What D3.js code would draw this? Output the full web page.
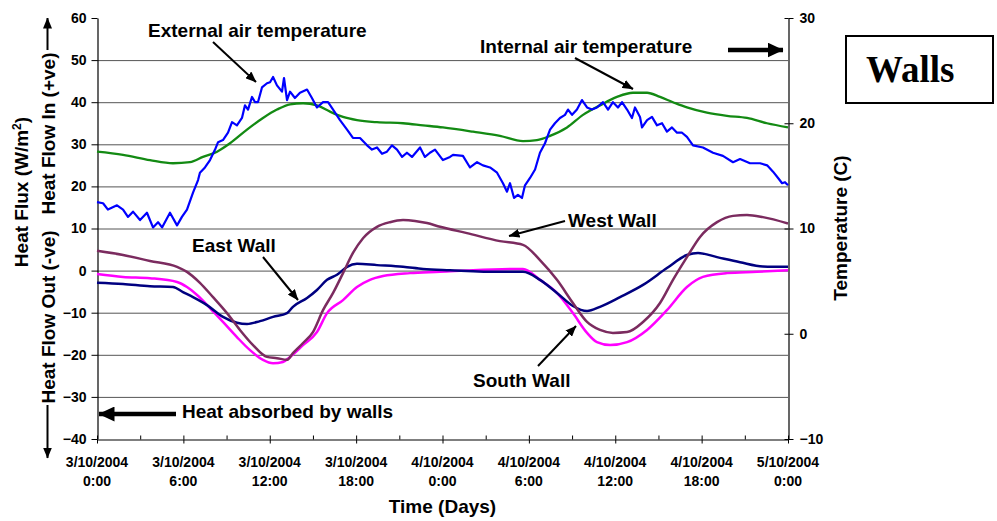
<!DOCTYPE html>
<html><head><meta charset="utf-8">
<script src="https://cdn.jsdelivr.net/npm/d3@7/dist/d3.min.js"></script>
<style>
body{margin:0;background:#fff}
text{font-family:"Liberation Sans",Arial,sans-serif;font-weight:bold;fill:#000}
</style>
</head><body>
<svg id="c" width="997" height="521"></svg>
<script>
// ---- data (hours since 3/10/2004 0:00) ----
const xTickHours = [0, 6, 12, 18, 24, 30, 36, 42, 48];
const xMinorHours = [3, 9, 15, 21, 27, 33, 39, 45];
const xTickDates = ["3/10/2004","3/10/2004","3/10/2004","3/10/2004","4/10/2004","4/10/2004","4/10/2004","4/10/2004","5/10/2004"];
const xTickTimes = ["0:00","6:00","12:00","18:00","0:00","6:00","12:00","18:00","0:00"];
const fluxTicks = [-40, -30, -20, -10, 0, 10, 20, 30, 40, 50, 60];
const tempTicks = [-10, 0, 10, 20, 30];

// External air temperature (C, right axis)
const extAir = [[0,12.5],[0.42,12.4],[0.76,11.8],[1.39,12.2],[1.81,11.8],[2.15,11.1],[2.5,11.6],[2.99,10.8],[3.47,11.5],[3.89,10.1],[4.24,10.6],[4.52,10.1],[5.07,11.5],[5.56,10.3],[5.9,11.1],[6.25,11.8],[6.67,13.4],[7.02,14.6],[7.15,15.3],[7.5,15.8],[7.85,16.5],[8.2,17.5],[8.41,18.2],[8.75,18.4],[9.1,19.1],[9.38,20.1],[9.72,19.8],[10.07,20.5],[10.28,21.7],[10.49,21.3],[10.77,22.5],[10.98,22.0],[11.18,22.0],[11.46,23.4],[11.81,23.8],[12.02,23.9],[12.23,24.4],[12.5,23.6],[12.85,23.0],[12.99,24.3],[13.2,22.2],[13.41,23.0],[13.75,22.4],[14.1,22.9],[14.59,23.2],[14.93,22.4],[15.28,21.5],[15.7,22.0],[16.05,22.0],[16.4,21.3],[16.88,20.3],[17.37,19.4],[17.78,18.6],[18.27,18.6],[18.76,17.9],[19.1,17.5],[19.45,17.7],[19.8,17.1],[20.14,17.3],[20.49,17.9],[20.84,17.5],[21.19,16.8],[21.53,17.2],[21.88,16.8],[22.44,17.7],[22.78,16.8],[23.13,17.2],[23.48,17.5],[24.03,16.5],[24.52,16.8],[24.73,17.0],[25.42,16.9],[25.91,15.8],[26.4,16.3],[26.81,16.0],[27.3,15.8],[27.79,15.3],[28.2,14.3],[28.48,13.5],[28.69,14.3],[28.97,12.9],[29.24,13.2],[29.52,12.9],[29.73,14.1],[30.08,14.8],[30.43,15.6],[30.77,17.2],[31.12,18.1],[31.47,19.4],[31.81,20.0],[32.16,20.5],[32.51,20.8],[32.72,21.3],[33.0,20.8],[33.34,21.3],[33.69,22.2],[34.04,21.5],[34.38,21.3],[34.73,21.5],[35.15,22.0],[35.5,21.3],[35.84,22.0],[36.19,21.5],[36.47,22.0],[36.82,21.3],[37.16,20.5],[37.37,21.5],[37.72,20.6],[37.86,19.6],[38.21,20.3],[38.55,20.6],[38.9,19.8],[39.25,20.0],[39.59,19.2],[39.94,19.6],[40.29,19.1],[40.64,19.1],[40.98,18.7],[41.4,17.9],[42.09,17.7],[42.79,17.2],[43.48,16.9],[44.18,16.3],[44.67,16.6],[45.36,16.2],[46.06,16.2],[46.55,16.0],[46.96,15.4],[47.31,14.8],[47.59,14.3],[47.79,14.4],[48,14.1]];

// Internal air temperature (C, right axis)
const intAir = [[0,17.3],[1.81,17.0],[3.68,16.5],[5.28,16.2],[6.46,16.3],[7.36,16.8],[8.34,17.3],[9.24,18.1],[10.42,19.4],[11.53,20.5],[12.5,21.3],[13.41,21.8],[14.31,21.9],[15.28,21.7],[16.19,21.1],[17.09,20.6],[18.06,20.3],[19.45,20.1],[21.26,20.0],[22.65,19.8],[24.03,19.6],[26.12,19.2],[27.99,18.8],[29.59,18.3],[30.56,18.4],[31.47,18.8],[32.65,19.6],[33.76,20.8],[34.94,21.7],[36.12,22.5],[37.23,22.9],[38.21,22.9],[39.11,22.5],[40.01,22.0],[40.98,21.5],[42.37,21.0],[43.76,20.7],[45.15,20.5],[46.54,20.0],[48,19.6]];

// South wall heat flux (W/m2, left axis)
const southWall = [[0,-0.8],[1.81,-1.5],[3.68,-1.8],[5.56,-2.7],[6.25,-3.9],[6.95,-5.8],[7.85,-8.9],[8.75,-12.2],[9.72,-15.8],[10.63,-18.9],[11.53,-21.2],[12.23,-22.0],[12.92,-21.7],[13.41,-20.5],[14.31,-17.7],[15.28,-14.6],[15.98,-10.1],[17.09,-7.0],[18.06,-3.9],[18.96,-2.2],[19.87,-1.3],[21.74,-0.6],[23.83,-0.3],[26.12,0.1],[29.59,0.4],[30.77,-2.2],[31.95,-5.3],[33.06,-10.1],[34.04,-14.8],[34.73,-17.0],[35.64,-17.7],[36.82,-17.0],[38.21,-14.1],[39.59,-9.4],[40.98,-3.9],[42.09,-1.5],[43.76,-0.6],[45.85,-0.3],[48,0.1]];

// East wall heat flux (W/m2, left axis)
const eastWall = [[0,-2.9],[1.81,-3.2],[3.68,-3.7],[5.28,-3.9],[5.97,-5.1],[6.67,-6.3],[7.64,-8.2],[8.75,-11.0],[9.72,-12.4],[10.42,-12.7],[11.32,-12.0],[12.23,-11.0],[13.2,-10.1],[13.61,-8.6],[14.59,-6.5],[15.28,-4.6],[15.98,-2.2],[16.67,-1.0],[17.37,0.9],[18.06,1.6],[19.45,1.3],[21.26,0.9],[22.65,0.4],[24.52,0.1],[27.99,-0.3],[29.59,-0.3],[30.77,-2.2],[31.95,-5.3],[33.06,-8.4],[34.04,-9.6],[34.94,-8.6],[36.33,-6.3],[37.93,-3.4],[39.59,0.6],[40.98,3.7],[41.75,4.2],[43.07,3.2],[44.67,2.0],[46.26,1.0],[48,0.9]];

// West wall heat flux (W/m2, left axis)
const westWall = [[0,4.7],[1.81,3.7],[3.68,2.3],[5.56,0.9],[6.25,-0.3],[7.15,-2.9],[8.06,-6.3],[9.03,-10.1],[9.93,-14.1],[10.84,-17.7],[11.81,-20.5],[12.5,-20.8],[13.2,-21.2],[13.61,-19.6],[14.31,-17.2],[15.0,-14.6],[15.7,-9.4],[16.4,-5.3],[17.09,-0.6],[17.78,4.2],[18.48,7.7],[19.45,10.4],[20.35,11.5],[21.26,12.0],[22.09,11.8],[22.92,11.3],[23.83,10.4],[25.7,8.9],[27.99,7.0],[29.59,6.1],[30.77,2.5],[31.95,-2.2],[33.06,-7.7],[34.04,-12.2],[34.94,-14.1],[35.84,-14.8],[36.82,-14.6],[37.93,-12.2],[39.11,-7.7],[40.01,-2.2],[40.98,3.2],[41.89,8.0],[43.07,11.5],[44.18,13.0],[45.15,13.2],[46.26,12.7],[48,11.2]];

// ---- layout ----
const svg = d3.select("#c");
const L = 97, R = 788, T = 18, B = 439;
const x = d3.scaleLinear().domain([0, 48]).range([L, R]);
const yL = d3.scaleLinear().domain([-40, 60]).range([B, T]);
const yR = d3.scaleLinear().domain([-10, 30]).range([B, T]);

const defs = svg.append("defs");
function marker(id, w, h) {
  defs.append("marker").attr("id", id).attr("markerUnits", "userSpaceOnUse")
    .attr("viewBox", `0 0 ${w} ${h}`).attr("refX", w - 0.5).attr("refY", h / 2)
    .attr("markerWidth", w).attr("markerHeight", h).attr("orient", "auto")
    .append("path").attr("d", `M0,0L${w},${h/2}L0,${h}Z`).attr("fill", "#000");
}
marker("thin", 11, 9);
marker("thick", 16, 15);

// gridlines
svg.append("g").selectAll("line").data(fluxTicks.filter(v => v > -40 && v < 60)).join("line")
  .attr("x1", L).attr("x2", R).attr("y1", d => yL(d) + 0.5).attr("y2", d => yL(d) + 0.5)
  .attr("stroke", "#555").attr("stroke-width", 1);

// axes
const gl = svg.append("g").attr("transform", `translate(${L + 0.5},0)`)
  .call(d3.axisLeft(yL).tickValues(fluxTicks).tickSize(6).tickPadding(5).tickSizeOuter(0));
const gr = svg.append("g").attr("transform", `translate(${R + 0.5},0)`)
  .call(d3.axisRight(yR).tickValues(tempTicks).tickSize(5).tickPadding(6).tickSizeOuter(0));
const gb = svg.append("g").attr("transform", `translate(0,${B + 0.5})`)
  .call(d3.axisBottom(x).tickValues(xTickHours).tickSize(4).tickFormat("").tickSizeOuter(0));
[gl, gr, gb].forEach(g => {
  g.selectAll("path.domain").attr("stroke", "#000").attr("stroke-width", 1.2);
  g.selectAll(".tick line").attr("stroke", "#000");
  g.selectAll(".tick text").style("font-size", "14px").style("font-weight", "bold")
    .style("font-family", "'Liberation Sans', Arial, sans-serif").attr("fill", "#000");
});
// inner tick halves & minor ticks on time axis
gb.selectAll(".tick").append("line").attr("y1", 0).attr("y2", -4).attr("stroke", "#000");
gb.append("g").selectAll("line").data(xMinorHours).join("line")
  .attr("x1", d => x(d) + 0.5).attr("x2", d => x(d) + 0.5).attr("y1", 0).attr("y2", -4).attr("stroke", "#000");
gr.selectAll(".tick").append("line").attr("x1", 0).attr("x2", -4).attr("stroke", "#000");

// time tick labels (two lines)
const xl = svg.append("g").selectAll("text").data(xTickHours).join("text")
  .attr("x", d => x(d)).attr("text-anchor", "middle").style("font-size", "14px");
xl.append("tspan").attr("x", d => x(d)).attr("y", 467).text((d, i) => xTickDates[i]);
xl.append("tspan").attr("x", d => x(d)).attr("y", 486).text((d, i) => xTickTimes[i]);

// series
const lineL = d3.line().x(d => x(d[0])).y(d => yL(d[1])).curve(d3.curveMonotoneX);
const lineR = d3.line().x(d => x(d[0])).y(d => yR(d[1])).curve(d3.curveMonotoneX);
const lineRj = d3.line().x(d => x(d[0])).y(d => yR(d[1]));
const series = [
  [intAir, lineR, "#138a13", 2.3],
  [extAir, lineRj, "#0000ff", 2.2],
  [southWall, lineL, "#ff00ff", 2.5],
  [eastWall, lineL, "#000080", 2.5],
  [westWall, lineL, "#7b2b5f", 2.5]
];
series.forEach(([data, gen, col, w]) => {
  svg.append("path").datum(data).attr("d", gen).attr("fill", "none")
    .attr("stroke", col).attr("stroke-width", w).attr("stroke-linejoin", "round");
});

// annotations
function txt(s, xx, yy, size, anchor) {
  return svg.append("text").attr("x", xx).attr("y", yy).style("font-size", size + "px")
    .attr("text-anchor", anchor || "start").text(s);
}
function arrow(x1, y1, x2, y2, w, m) {
  svg.append("line").attr("x1", x1).attr("y1", y1).attr("x2", x2).attr("y2", y2)
    .attr("stroke", "#000").attr("stroke-width", w).attr("marker-end", `url(#${m})`);
}
txt("External air temperature", 148, 37, 19);
arrow(213, 42, 256, 82, 2, "thin");
txt("Internal air temperature", 480, 53, 19);
arrow(575, 58, 633, 89, 2, "thin");
arrow(728, 50, 783, 50, 4.5, "thick");
txt("West Wall", 568, 227, 19);
arrow(565, 221, 509, 236, 2, "thin");
txt("East Wall", 192, 252, 19);
arrow(263, 257, 298, 300, 2, "thin");
txt("South Wall", 473, 387, 19);
arrow(538, 366, 576, 326, 2, "thin");
txt("Heat absorbed by walls", 182, 418, 19);
arrow(176, 414, 99, 414, 4.7, "thick");

// axis titles
txt("Time (Days)", (L + R) / 2, 513, 19, "middle");
svg.append("text").attr("transform", "translate(847,228) rotate(-90)").attr("text-anchor", "middle")
  .style("font-size", "19px").text("Temperature (C)");
const t1 = svg.append("text").attr("transform", "translate(28,192) rotate(-90)").attr("text-anchor", "middle")
  .style("font-size", "19px");
t1.append("tspan").text("Heat Flux (W/m");
t1.append("tspan").attr("dy", -7).style("font-size", "12px").text("2");
t1.append("tspan").attr("dy", 7).text(")");
svg.append("text").attr("transform", "translate(55,228) rotate(-90)").attr("text-anchor", "middle")
  .style("font-size", "19px").attr("xml:space", "preserve").style("white-space", "pre")
  .text("Heat Flow Out (-ve)   Heat Flow In (+ve)");
arrow(47.5, 50, 47.5, 18, 2, "thin");
arrow(47.5, 405, 47.5, 458, 2, "thin");

// Walls box
svg.append("rect").attr("x", 846).attr("y", 36).attr("width", 147).attr("height", 67)
  .attr("fill", "#fff").attr("stroke", "#000").attr("stroke-width", 2);
svg.append("text").attr("x", 866).attr("y", 82).style("font-family", "'Liberation Serif','Times New Roman',serif")
  .style("font-size", "37px").style("font-weight", "bold").text("Walls");
</script>
</body></html>
